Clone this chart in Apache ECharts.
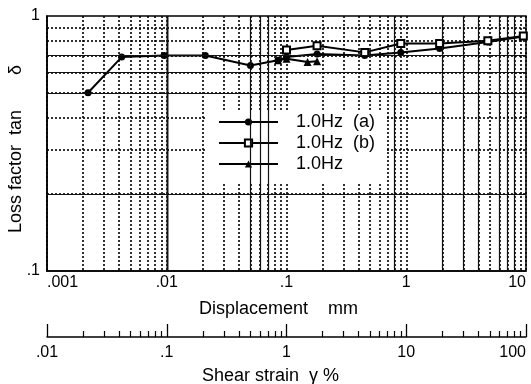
<!DOCTYPE html>
<html>
<head>
<meta charset="utf-8">
<script src="https://cdn.jsdelivr.net/npm/echarts@6/dist/echarts.min.js"></script>
<style>
html, body { margin: 0; padding: 0; background: #fff; }
#chart { width: 531px; height: 384px; }
</style>
</head>
<body>
<div id="chart"></div>
<script>
// displacement (mm) and loss factor tan δ
const dispA = [0.0022, 0.0042, 0.0095, 0.021, 0.05, 0.085, 0.1, 0.18, 0.45, 0.9, 1.9, 4.8, 9.5]
const lossA = [0.5, 0.69, 0.7, 0.7, 0.64, 0.67, 0.69, 0.71, 0.7, 0.72, 0.745, 0.79, 0.83]
const dispB = [0.1, 0.18, 0.45, 0.9, 1.9, 4.8, 9.5]
const lossB = [0.735, 0.765, 0.72, 0.78, 0.78, 0.8, 0.835]
const dispC = [0.085, 0.1, 0.15, 0.18]
const lossC = [0.67, 0.68, 0.66, 0.665]
const names = ['1.0Hz  (a)', '1.0Hz  (b)', '1.0Hz']

// graph paper: these grid lines are solid, the rest dotted
const solidX = [0.002, 0.003, 0.004, 0.005, 0.006, 0.007, 0.008, 0.009, 0.01, 0.05, 0.06, 0.07, 0.8, 2, 3, 4, 6, 7, 8]
const solidY = [0.2, 0.5, 0.6, 0.7]

const font = 'Liberation Sans, Arial, Helvetica, sans-serif'
const dotted = { color: '#000', width: 1.6, type: [2, 2] }

const pairs = (xs, ys) => xs.map((x, i) => [x, ys[i]])
const fmt = (v) => {
  const s = String(Number(v.toPrecision(6)))
  return s.replace(/^0\./, '.')
}

const chart = echarts.init(document.getElementById('chart'))
const option = {
  animation: false,
  textStyle: { fontFamily: font, color: '#000' },
  grid: {
    left: 47,
    right: 5,
    top: 16,
    bottom: 113,
    outerBoundsMode: 'none',
    containLabel: false,
    show: true,
    borderColor: '#000',
    borderWidth: 1.5,
    backgroundColor: '#fff'
  },
  legend: {
    orient: 'vertical',
    left: 207,
    top: 111,
    backgroundColor: '#fff',
    padding: [2, 10, 10, 11],
    itemWidth: 59,
    itemHeight: 9,
    itemGap: 3,
    selectedMode: false,
    data: names,
    textStyle: { fontSize: 18, color: '#000', fontFamily: font, padding: [0, 0, 0, 13] }
  },
  xAxis: [
    {
      type: 'log',
      logBase: 10,
      min: 0.001,
      max: 10,
      name: 'Displacement    mm',
      nameLocation: 'middle',
      nameGap: 29,
      nameTextStyle: { fontSize: 18, color: '#000', padding: [0, 16, 0, 0] },
      axisLine: { lineStyle: { color: '#000', width: 1.5 } },
      axisTick: { show: false },
      minorTick: { show: false, splitNumber: 9 },
      axisLabel: {
        fontSize: 16,
        color: '#000',
        margin: 4,
        formatter: fmt,
        alignMinLabel: 'left',
        alignMaxLabel: 'right'
      },
      splitLine: { show: true, lineStyle: dotted },
      minorSplitLine: { show: true, lineStyle: dotted }
    },
    {
      type: 'log',
      logBase: 10,
      min: 0.01,
      max: 100,
      position: 'bottom',
      offset: 66,
      name: 'Shear strain  γ %',
      nameLocation: 'middle',
      nameGap: 30,
      nameTextStyle: { fontSize: 18, color: '#000', padding: [0, 32, 0, 0] },
      axisLine: { lineStyle: { color: '#000', width: 1.5 } },
      axisTick: { show: true, inside: true, length: 13, lineStyle: { color: '#000', width: 1.3 } },
      minorTick: { show: true, splitNumber: 9, length: 6, lineStyle: { color: '#000', width: 1.2 } },
      axisLabel: {
        fontSize: 16,
        color: '#000',
        margin: 8,
        formatter: fmt,
        alignMinLabel: 'center',
        alignMaxLabel: 'right'
      },
      splitLine: { show: false },
      minorSplitLine: { show: false }
    }
  ],
  yAxis: {
    type: 'log',
    logBase: 10,
    min: 0.1,
    max: 1,
    name: 'Loss factor  tan       δ',
    nameLocation: 'middle',
    nameGap: 22,
    nameMoveOverlap: false,
    nameTextStyle: { fontSize: 18, color: '#000', padding: [0, 11, 0, 0] },
    axisLine: { lineStyle: { color: '#000', width: 1.5 } },
    axisTick: { show: false },
    minorTick: { show: false, splitNumber: 9 },
    axisLabel: {
      fontSize: 16,
      color: '#000',
      margin: 7,
      formatter: fmt,
      verticalAlignMinLabel: 'middle',
      verticalAlignMaxLabel: 'middle'
    },
    splitLine: { show: false },
    minorSplitLine: { show: true, lineStyle: dotted }
  },
  series: [
    {
      name: names[0],
      type: 'line',
      data: pairs(dispA, lossA),
      symbol: 'circle',
      symbolSize: 7,
      itemStyle: { color: '#000' },
      lineStyle: { color: '#000', width: 2 },
      emphasis: { disabled: true },
      markLine: {
        silent: true,
        symbol: ['none', 'none'],
        label: { show: false },
        lineStyle: { type: 'solid', color: '#111', width: 1.2 },
        data: solidX.map(v => ({ xAxis: v })).concat(solidY.map(v => ({ yAxis: v })))
      }
    },
    {
      name: names[1],
      type: 'line',
      data: pairs(dispB, lossB),
      symbol: 'emptyRect',
      symbolSize: 7,
      itemStyle: { color: '#000', borderWidth: 1.5 },
      lineStyle: { color: '#000', width: 2 },
      emphasis: { disabled: true }
    },
    {
      name: names[2],
      type: 'line',
      data: pairs(dispC, lossC),
      symbol: 'triangle',
      symbolSize: 8,
      itemStyle: { color: '#000' },
      lineStyle: { color: '#000', width: 2 },
      emphasis: { disabled: true }
    }
  ]
}
chart.setOption(option)
</script>
</body>
</html>
